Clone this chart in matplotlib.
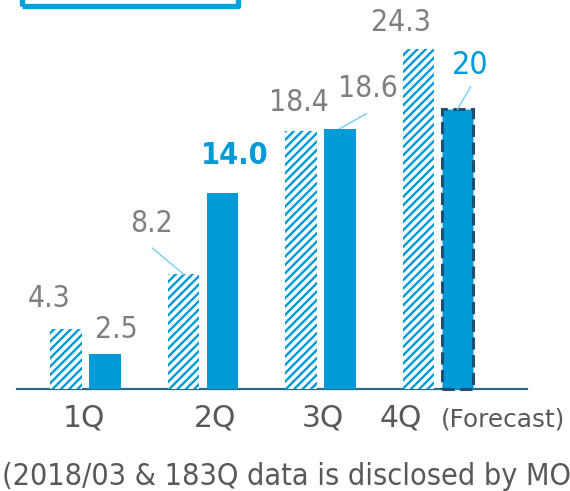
import numpy as np
import matplotlib
matplotlib.use("Agg")
import matplotlib.pyplot as plt
from matplotlib.patches import Rectangle

quarters = ["1Q", "2Q", "3Q", "4Q"]
prev_year = [4.3, 8.2, 18.4, 24.3]
this_year = [2.5, 14.0, 18.6, 20]
prev_labels = ["4.3", "8.2", "18.4", "24.3"]
this_labels = ["2.5", "14.0", "18.6", "20"]
note = "(2018/03 & 183Q data is disclosed by MO"

BLUE = "#009ad9"
GRAY = "#7f7f7f"
DARK = "#595959"
LEADER = "#7fd0f5"

# slide geometry in pixels (570x491 image)
W, H = 570, 491
X0, XS = 85.5, 117.5   # first group centre, px per group
Y0, YS = 389, 14.0     # baseline from top, px per unit

plt.rcParams["hatch.linewidth"] = 1.7
fig = plt.figure(figsize=(W / 100, H / 100), dpi=100)
ax = fig.add_axes([0, 0, 1, 1])
ax.set_xlim(-X0 / XS, (W - X0) / XS)
ax.set_ylim(-(H - Y0) / YS, Y0 / YS)
ax.axis("off")


def dx(p):
    return p / XS


def dy(p):
    return p / YS


x = np.arange(len(quarters))
off = dx(19.5)
bw = dx(31.5)

ax.bar(x - off, prev_year, bw, color="white", edgecolor=BLUE, hatch="////",
       linewidth=0, zorder=3)
solid = ax.bar(x + off, this_year, bw, color=BLUE, linewidth=0, zorder=3)
solid[-1].set_edgecolor("#1d4f6e")
solid[-1].set_linewidth(2.2)
solid[-1].set_linestyle((0, (4, 1.8)))

# baseline
ax.plot([dx(17 - X0), dx(527 - X0)], [0, 0], color="#2e6a88", lw=1.6, zorder=2)

# value labels, offsets in px from the bar top centre
prev_off = [(-17, 30), (-32, 51), (-2, 29), (-18, 26)]
this_off = [(11.5, 24), (12, 37), (27.5, 40), (13, 43)]
num = dict(fontstretch="condensed", ha="center", va="center")
for i in range(len(quarters)):
    ax.text(x[i] - off + dx(prev_off[i][0]), prev_year[i] + dy(prev_off[i][1]),
            prev_labels[i], fontsize=21.5, color=GRAY, **num)
    style = dict(fontsize=21.5, color=GRAY)
    if i == 1:
        style = dict(fontsize=22, color=BLUE, fontweight="bold")
    elif i == 3:
        style = dict(fontsize=23, color=BLUE)
    ax.text(x[i] + off + dx(this_off[i][0]), this_year[i] + dy(this_off[i][1]),
            this_labels[i], **style, **num)

# leader lines: (bar x, bar value, start offset px)
leaders = [(x[1] - off, prev_year[1], (-31, 26)),
           (x[2] + off, this_year[2], (26.5, 15)),
           (x[3] + off, this_year[3], (13, 22))]
for bx, val, (ox, oy) in leaders:
    ax.plot([bx + dx(ox), bx], [val + dy(oy), val], color=LEADER, lw=1.1, zorder=4)

# category labels
label_px = [84, 215, 323, 401]
for lab, p in zip(quarters, label_px):
    ax.text(dx(p - X0), dy(Y0 - 427), lab, ha="center", va="baseline",
            fontsize=21.5, color=DARK)
ax.text(dx(441 - X0), dy(Y0 - 427), "(Forecast)", ha="left", va="baseline",
        fontsize=17.8, color=DARK)

ax.text(dx(2 - X0), dy(Y0 - 485), note, ha="left", va="baseline",
        fontsize=21.9, fontstretch="condensed", color=DARK)

# frame of the title box, cut off by the top edge
fig.patches.append(Rectangle((21.5 / W, 1 - 6 / H), (238 - 21.5) / W, 0.2,
                             transform=fig.transFigure, fill=False,
                             edgecolor="#00a0e0", lw=3.8, joinstyle="round"))

fig.savefig("out.png", dpi=100)
